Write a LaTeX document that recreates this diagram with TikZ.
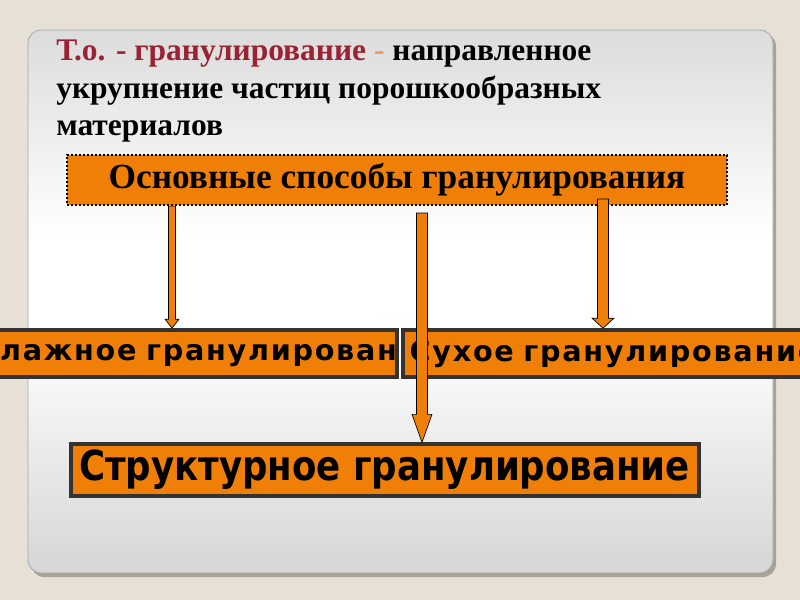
\documentclass[tikz,border=0pt]{standalone}
\usepackage{fontspec}
\setmainfont{Liberation Serif}
\newfontfamily\dejavu{DejaVu Sans}[LetterSpace=6]
\newfontfamily\dejavucond{DejaVu Sans}[FakeStretch=0.86]
\usetikzlibrary{calc}

\definecolor{slidebg}{RGB}{230,224,215}
\definecolor{shadowgray}{RGB}{168,163,153}
\definecolor{paneltop}{RGB}{220,220,220}
\definecolor{panelbottom}{RGB}{214,214,214}
\definecolor{boxorange}{RGB}{240,127,8}
\definecolor{boxline}{RGB}{51,51,51}
\definecolor{titlered}{RGB}{153,34,51}
\definecolor{dashorange}{RGB}{240,150,100}

\pgfdeclareverticalshading{panelshade}{100bp}{color(0bp)=(panelbottom); color(25bp)=(panelbottom);
  color(47bp)=(white); color(56bp)=(white); color(75bp)=(paneltop); color(100bp)=(paneltop)}

\tikzset{
  title/.style={inner sep=0pt, font=\fontsize{23.6}{28}\selectfont\bfseries},
  mainbox/.style={fill=boxorange, draw=black, line width=1.5pt, dash pattern=on 1.5pt off 1.5pt,
    minimum width=495pt, minimum height=37.5pt, inner sep=0pt, font=\fontsize{26.5}{30}\selectfont\bfseries},
  waybox/.style={fill=boxorange, draw=boxline, line width=3pt, minimum height=35pt, inner ysep=0pt,
    font=\fontsize{21.5}{25}\selectfont\dejavu\bfseries},
  strbox/.style={fill=boxorange, draw=boxline, line width=3pt, minimum width=471pt, minimum height=38.5pt,
    inner sep=0pt, font=\fontsize{31}{36}\selectfont\dejavucond\bfseries},
  arrowbody/.style={fill=boxorange, draw=black, line width=0.5pt, line join=miter}
}

% tail, tip, half shaft, half head, head length
\newcommand{\blockarrow}[5]{%
  \filldraw[arrowbody] ($(#1)+(-#3,0)$) -- ($(#2)+(-#3,-#5)$) -- ($(#2)+(-#4,-#5)$) -- (#2)
    -- ($(#2)+(#4,-#5)$) -- ($(#2)+(#3,-#5)$) -- ($(#1)+(#3,0)$) -- cycle;}

\begin{document}
\begin{tikzpicture}[x=0.75pt,y=-0.75pt]
  \useasboundingbox (0,0) rectangle (800,600);
  \fill[slidebg] (0,0) rectangle (800,600);
  % panel
  \fill[shadowgray, rounded corners=10] (31,33) rectangle (776,577);
  \shade[shading=panelshade, rounded corners=10] (28,30) rectangle (773,573);
  \draw[gray!70, line width=0.6pt, rounded corners=10] (28,30) rectangle (773,573);

  \node[title, anchor=base west] (t1) at (56,60) {\textcolor{titlered}{Т.о. - гранулирование} \textcolor{dashorange}{-} направленное};
  \node[title, anchor=base west] (t2) at (56,98) {укрупнение частиц порошкообразных};
  \node[title, anchor=base west] (t3) at (56,135) {материалов};

  \node[waybox, anchor=east, text width=350pt, align=right, inner xsep=0pt] (vl) at (399,353.5) {Влажное гранулирован};
  \node[waybox, anchor=west, text width=340pt, align=left, inner xsep=5pt] (sux) at (401,353.5) {Сухое гранулирование};
  \node[mainbox] (osn) at (397,180) {Основные способы гранулирования};
  \node[strbox] (str) at (384.5,470) {Структурное гранулирование};

  \coordinate (a1) at ($(osn.south west)+(106,0)$);
  \coordinate (a2) at ($(osn.south west)+(356,7)$);
  \coordinate (a3) at ($(osn.south west)+(537,-7)$);
  \blockarrow{a1}{a1 |- vl.north}{3.5}{7}{9}
  \blockarrow{a3}{a3 |- sux.north}{5.5}{11}{10}
  \blockarrow{a2}{a2 |- str.north}{5.5}{10}{28}
\end{tikzpicture}
\end{document}
